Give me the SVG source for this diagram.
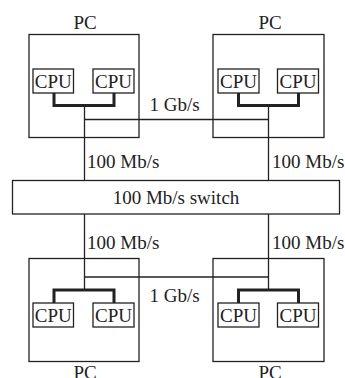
<svg xmlns="http://www.w3.org/2000/svg" width="345" height="378" viewBox="0 0 345 378">
<style>
.box{fill:none;stroke:#222;stroke-width:1.3}
.cpu{fill:#fff;stroke:#222;stroke-width:1.3}
.thin{fill:none;stroke:#222;stroke-width:1.3}
.thick{fill:none;stroke:#222;stroke-width:3}
text{font-family:"Liberation Serif","Times New Roman",serif;font-size:19px;fill:#222}
.m{text-anchor:middle}
</style>
<rect width="345" height="378" fill="#fff"/>
<g id="connectors">
<path class="thin" d="M84.5 106V180M268.5 106V180M84.5 119.5H268.5"/>
<path class="thin" d="M84.5 214V290M268.5 214V290M84.5 277H268.5"/>
<path class="thick" d="M54 93V105.5H114V93M238.5 93V105.5H298.5V93"/>
<path class="thick" d="M54 303V290H114V303M238.5 303V290H298.5V303"/>
<text x="149.5" y="110.5">1 Gb/s</text>
<text x="149.5" y="301.5">1 Gb/s</text>
<text x="87" y="167.5">100 Mb/s</text>
<text x="272" y="167.5">100 Mb/s</text>
<text x="87" y="249">100 Mb/s</text>
<text x="272" y="249">100 Mb/s</text>
</g>
<g id="pc-tl">
<rect class="box" x="29" y="34.5" width="110" height="103"/>
<text class="m" x="85" y="29">PC</text>
<rect class="cpu" x="33" y="69" width="40.5" height="24"/>
<text class="m" x="53.2" y="87.5">CPU</text>
<rect class="cpu" x="93" y="69" width="41" height="24"/>
<text class="m" x="113.5" y="87.5">CPU</text>
</g>
<g id="pc-tr">
<rect class="box" x="213" y="34.5" width="111" height="103"/>
<text class="m" x="270" y="29">PC</text>
<rect class="cpu" x="218" y="69" width="41" height="24"/>
<text class="m" x="238.5" y="87.5">CPU</text>
<rect class="cpu" x="277.5" y="69" width="41" height="24"/>
<text class="m" x="298" y="87.5">CPU</text>
</g>
<g id="switch">
<rect class="box" x="12.5" y="180.5" width="327" height="33.5"/>
<text class="m" x="176" y="203.5">100 Mb/s switch</text>
</g>
<g id="pc-bl">
<rect class="box" x="29" y="258.5" width="110" height="103"/>
<text class="m" x="85" y="379">PC</text>
<rect class="cpu" x="33" y="303" width="40.5" height="24"/>
<text class="m" x="53.2" y="321.5">CPU</text>
<rect class="cpu" x="93" y="303" width="41" height="24"/>
<text class="m" x="113.5" y="321.5">CPU</text>
</g>
<g id="pc-br">
<rect class="box" x="213" y="258.5" width="111" height="103"/>
<text class="m" x="270" y="379">PC</text>
<rect class="cpu" x="218" y="303" width="41" height="24"/>
<text class="m" x="238.5" y="321.5">CPU</text>
<rect class="cpu" x="277.5" y="303" width="41" height="24"/>
<text class="m" x="298" y="321.5">CPU</text>
</g>
</svg>
